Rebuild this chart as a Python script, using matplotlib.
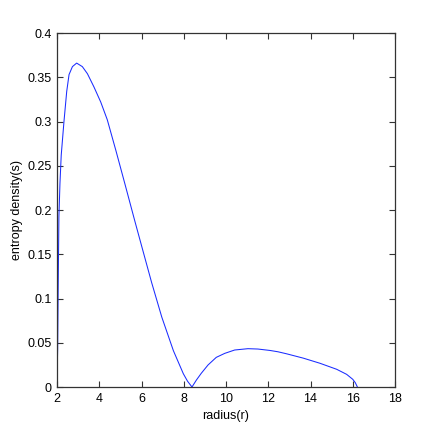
import numpy as np
import matplotlib
matplotlib.use("Agg")
import matplotlib.pyplot as plt
from matplotlib import font_manager

# values
r_lobe1 = [2.0, 2.01, 2.03, 2.05, 2.09, 2.14, 2.20, 2.33, 2.46, 2.57, 2.73, 2.93,
           3.20, 3.44, 3.75, 4.07, 4.38, 4.79, 5.22, 5.69, 6.09, 6.48, 6.96,
           7.51, 7.98, 8.18, 8.39]
s_lobe1 = [0.0, 0.02, 0.042, 0.098, 0.192, 0.23, 0.262, 0.300, 0.334, 0.353, 0.362, 0.366,
           0.362, 0.354, 0.339, 0.322, 0.302, 0.267, 0.229, 0.187, 0.152, 0.118, 0.079,
           0.041, 0.015, 0.0065, 0.0]
r_lobe2 = [8.39, 8.60, 8.83, 9.15, 9.54, 9.94, 10.41, 11.04, 11.51, 12.08, 12.46,
           12.87, 13.66, 14.45, 15.24, 15.71, 16.0, 16.12, 16.22]
s_lobe2 = [0.0, 0.0079, 0.0155, 0.0249, 0.0335, 0.038, 0.0418, 0.0433, 0.0429, 0.0413, 0.0398,
           0.0375, 0.0326, 0.0268, 0.020, 0.0143, 0.0087, 0.0049, 0.0]

x_ticks = [2, 4, 6, 8, 10, 12, 14, 16, 18]
y_ticks = [0, 0.05, 0.1, 0.15, 0.2, 0.25, 0.3, 0.35, 0.4]
y_labels = ["0", "0.05", "0.1", "0.15", "0.2", "0.25", "0.3", "0.35", "0.4"]

names = {f.name for f in font_manager.fontManager.ttflist}
if "Liberation Sans Narrow" in names:
    plt.rcParams["font.family"] = "Liberation Sans Narrow"
    fs = 10
else:
    plt.rcParams["font.family"] = "Liberation Sans"
    fs = 9

r = np.array(r_lobe1 + r_lobe2[1:])
s = np.array(s_lobe1 + s_lobe2[1:])

fig = plt.figure(figsize=(4.36, 4.36), dpi=100)
ax = fig.add_axes([57 / 436, 49 / 436, 338 / 436, 354 / 436])
ax.plot(r, s, color="#1a2cff", lw=0.75, solid_joinstyle="round")

ax.set_xlim(2, 18)
ax.set_ylim(0, 0.4)
ax.set_xticks(x_ticks)
ax.set_yticks(y_ticks)
ax.set_yticklabels(y_labels)
ax.tick_params(direction="in", top=True, right=True, length=4, width=0.8,
               labelsize=fs, pad=4, color="#333333")
for sp in ax.spines.values():
    sp.set_linewidth(0.9)
    sp.set_color("#333333")

ax.set_xlabel("radius(r)", fontsize=fs, labelpad=4)
ax.set_ylabel("entropy density(s)", fontsize=fs, labelpad=3)

fig.savefig("out.png", dpi=100)
